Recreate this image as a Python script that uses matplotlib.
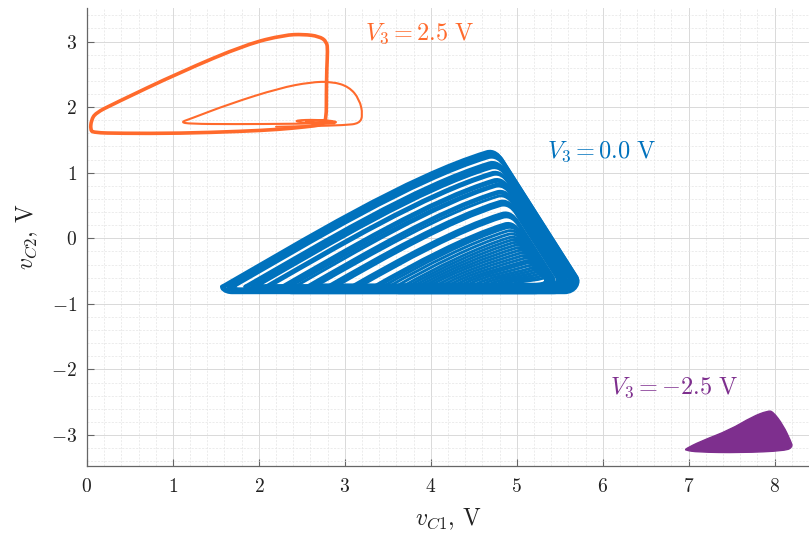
import numpy as np
import matplotlib
matplotlib.use("Agg")
import matplotlib.pyplot as plt
from matplotlib.path import Path
from matplotlib.patches import PathPatch
from matplotlib.ticker import MultipleLocator

# colours of the three runs
c_pos = "#FF6A2C"
c_zero = "#0072BD"
c_neg = "#7E2F8E"

# V3 = 2.5 V: guide points of the large loop, the small spiral and the thin loop
orange_main_x = [2.785, 2.79, 2.80, 2.79, 2.70, 2.52, 2.30, 1.86, 1.08, 0.31, 0.10, 0.05, 0.04,
                 0.07, 0.40, 1.08, 1.80, 2.24, 2.55, 2.74, 2.785]
orange_main_y = [2.20, 2.60, 2.86, 3.00, 3.08, 3.11, 3.10, 2.96, 2.53, 2.05, 1.91, 1.80, 1.66,
                 1.61, 1.60, 1.60, 1.63, 1.66, 1.70, 1.73, 1.82]
orange_spiral_x = [2.62, 2.88, 2.91, 2.66, 2.43, 2.45, 2.66, 2.84, 2.85, 2.66, 2.55]
orange_spiral_y = [1.735, 1.75, 1.785, 1.81, 1.80, 1.77, 1.76, 1.77, 1.79, 1.797, 1.787]
orange_thin_x = [2.88, 2.40, 1.70, 1.20, 1.09, 1.20, 1.66, 2.24, 2.60, 2.85, 3.05, 3.17, 3.21, 3.17,
                 3.00, 2.60, 2.20]
orange_thin_y = [1.755, 1.745, 1.74, 1.745, 1.77, 1.82, 2.05, 2.29, 2.38, 2.39, 2.31, 2.12, 1.88, 1.75,
                 1.725, 1.71, 1.70]

# V3 = 0.0 V: one entry per loop of the band
blue_tip_x = [1.57, 1.60, 1.64, 1.68, 1.72, 1.84, 1.88, 1.93, 1.98, 2.08, 2.13, 2.27, 2.32, 2.37,
              2.43, 2.56, 2.61, 2.66, 2.80, 2.85, 2.90, 3.08, 3.13, 3.18, 3.34, 3.39, 3.45, 3.52,
              3.60, 3.68, 3.74, 3.80, 3.86, 3.92, 3.98, 4.05, 4.12, 4.19, 4.26, 4.33, 4.40, 4.48,
              4.56, 4.64, 4.72, 4.80, 4.90]
blue_top_x = [4.65, 4.66, 4.66, 4.67, 4.67, 4.68, 4.69, 4.69, 4.70, 4.71, 4.72, 4.73, 4.74, 4.75,
              4.75, 4.77, 4.77, 4.78, 4.80, 4.80, 4.81, 4.83, 4.84, 4.84, 4.86, 4.87, 4.88, 4.89,
              4.90, 4.91, 4.93, 4.95, 4.97, 4.99, 5.01, 5.03, 5.05, 5.07, 5.09, 5.11, 5.13, 5.15,
              5.18, 5.21, 5.24, 5.27, 5.30]
blue_top_y = [1.32, 1.30, 1.27, 1.25, 1.23, 1.15, 1.13, 1.10, 1.07, 1.00, 0.97, 0.89, 0.86, 0.82,
              0.79, 0.71, 0.68, 0.64, 0.56, 0.53, 0.50, 0.38, 0.35, 0.32, 0.22, 0.19, 0.16, 0.11,
              0.06, 0.01, -0.03, -0.07, -0.11, -0.15, -0.19, -0.23, -0.27, -0.31, -0.35, -0.38,
              -0.42, -0.46, -0.49, -0.52, -0.55, -0.58, -0.61]
blue_base_y = [-0.83, -0.80, -0.77, -0.82, -0.79, -0.75, -0.81, -0.78, -0.72, -0.80, -0.76, -0.83,
               -0.74, -0.80, -0.78, -0.71, -0.82, -0.76, -0.80, -0.73, -0.79, -0.82, -0.72, -0.77,
               -0.80, -0.74, -0.78, -0.83, -0.71, -0.76, -0.80, -0.73, -0.78, -0.70, -0.77, -0.74,
               -0.81, -0.72, -0.76, -0.79, -0.71, -0.75, -0.78, -0.73, -0.77, -0.74, -0.76]

# V3 = -2.5 V: outline of the (densely filled) attractor
purple_x = [6.965, 7.13, 7.48, 7.74, 7.92, 7.98, 8.10, 8.19, 8.21, 8.13, 7.60, 7.10, 6.96]
purple_y = [-3.21, -3.10, -2.92, -2.72, -2.63, -2.64, -2.85, -3.10, -3.18, -3.24, -3.27, -3.26, -3.23]

labels = [r"$V_3 = 2.5\ \mathrm{V}$", r"$V_3 = 0.0\ \mathrm{V}$", r"$V_3 = -2.5\ \mathrm{V}$"]
label_x = [3.23, 5.35, 6.08]
label_y = [3.12, 1.32, -2.28]

plt.rcParams.update({
    "font.family": "serif",
    "font.serif": ["cmr10"],
    "mathtext.fontset": "cm",
    "axes.formatter.use_mathtext": True,
})


def guide_path(xs, ys, closed=False):
    # smooth curve made of quadratic pieces through the midpoints of the guide polygon
    p = np.column_stack([xs, ys])
    if closed:
        m = (p + np.roll(p, -1, axis=0)) / 2
        verts = [m[-1]]
        codes = [Path.MOVETO]
        for i in range(len(p)):
            verts += [p[i], m[i]]
            codes += [Path.CURVE3, Path.CURVE3]
    else:
        verts = [p[0]]
        codes = [Path.MOVETO]
        for i in range(1, len(p) - 1):
            end = p[i + 1] if i == len(p) - 2 else (p[i] + p[i + 1]) / 2
            verts += [p[i], end]
            codes += [Path.CURVE3, Path.CURVE3]
    return Path(verts, codes)


def blue_loop(xl, xt, yt, yb):
    # tip on the left, concave rise to the top, straight fall, flat return
    bx, by = xt + 0.18, yt - 0.12
    xr = max(bx + (by + 0.58) / 2.06, bx)
    d = 0.3 * (xt - xl)
    verts = [
        (xl, -0.73),
        (xl + d, -0.73 + 0.75 * d), (xt - d, yt - 0.4 * d), (xt, yt),
        (xt + 0.08, yt + 0.03), (bx - 0.04, by + 0.08), (bx, by),
        (xr, min(by, -0.58)),
        (xr + 0.05, -0.68), (xr - 0.01, yb), (xr - 0.14, yb),
        (xl + 0.12, yb),
        (xl + 0.03, yb), (xl - 0.02, -0.76), (xl, -0.73),
    ]
    codes = [Path.MOVETO] + [Path.CURVE4] * 6 + [Path.LINETO] + [Path.CURVE4] * 3 \
        + [Path.LINETO] + [Path.CURVE4] * 3
    return Path(verts, codes)


fig = plt.figure(figsize=(8.09, 5.38), dpi=100)
ax = fig.add_axes([0.1075, 0.134, 0.8925, 0.851])

ax.set_xlim(0, 8.4)
ax.set_ylim(-3.47, 3.51)

ax.xaxis.set_major_locator(MultipleLocator(1))
ax.yaxis.set_major_locator(MultipleLocator(1))
ax.xaxis.set_minor_locator(MultipleLocator(0.2))
ax.yaxis.set_minor_locator(MultipleLocator(0.2))
ax.grid(which="major", color="#d9d9d9", lw=0.7)
ax.grid(which="minor", color="#e4e4e4", lw=0.5, ls=(0, (3, 2)))
ax.set_axisbelow(True)

for s in ["top", "right"]:
    ax.spines[s].set_visible(False)
for s in ["left", "bottom"]:
    ax.spines[s].set_color("#666666")
    ax.spines[s].set_linewidth(0.9)
ax.tick_params(which="major", direction="in", length=5, width=0.8, color="#666666",
               labelsize=14, labelcolor="#222222")
ax.tick_params(axis="x", pad=9)
ax.tick_params(axis="y", pad=7)
ax.tick_params(which="minor", length=0)

# V3 = 0.0 V
for xl, xt, yt, yb in zip(blue_tip_x, blue_top_x, blue_top_y, blue_base_y):
    ax.add_patch(PathPatch(blue_loop(xl, xt, yt, yb), fill=False, ec=c_zero, lw=2.1,
                           joinstyle="round", capstyle="round"))

# V3 = 2.5 V
ax.add_patch(PathPatch(guide_path(orange_main_x, orange_main_y, closed=True), fill=False,
                       ec=c_pos, lw=2.6, joinstyle="round"))
ax.add_patch(PathPatch(guide_path(orange_spiral_x, orange_spiral_y), fill=False,
                       ec=c_pos, lw=1.4, capstyle="round"))
ax.add_patch(PathPatch(guide_path(orange_thin_x, orange_thin_y), fill=False,
                       ec=c_pos, lw=1.5, joinstyle="round", capstyle="round"))

# V3 = -2.5 V
ax.add_patch(PathPatch(guide_path(purple_x, purple_y, closed=True), fc=c_neg, ec=c_neg, lw=1))

for txt, x, y, c in zip(labels, label_x, label_y, [c_pos, c_zero, c_neg]):
    ax.text(x, y, txt, color=c, fontsize=17.5, va="center", ha="left")

ax.set_xlabel(r"$v_{C1}$, V", fontsize=17, color="#222222", labelpad=7)
ax.set_ylabel(r"$v_{C2}$, V", fontsize=17, color="#222222", labelpad=8)

fig.savefig("out.png", dpi=100)
